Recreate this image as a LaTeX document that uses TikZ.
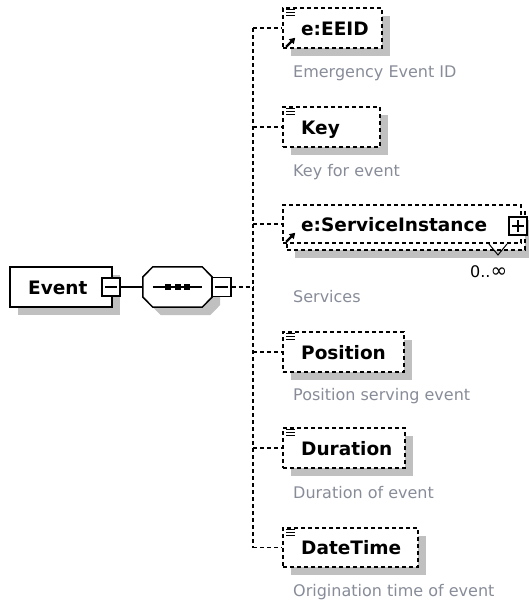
\documentclass[tikz,border=0pt]{standalone}
\usepackage{fontspec}
\setmainfont{DejaVu Sans}
\usetikzlibrary{shadows,arrows.meta}
\definecolor{shad}{RGB}{192,192,192}
\definecolor{descc}{RGB}{135,140,152}
\begin{document}
\begin{tikzpicture}[x=1pt,y=-1pt,
  sh/.style={drop shadow={shadow xshift=8pt,shadow yshift=-8pt,opacity=1,fill=shad}},
  elem/.style={draw,line width=1.5pt,dash pattern=on 4pt off 3pt,fill=white,rectangle,inner sep=0pt,minimum height=40pt},
  rootbox/.style={draw,line width=1.5pt,fill=white,rectangle,inner sep=0pt,minimum width=102pt,minimum height=40pt,sh},
  lbl/.style={font=\fontsize{18.5}{22}\selectfont\bfseries,anchor=base west,inner sep=0pt},
  dsc/.style={font=\fontsize{16}{19}\selectfont,text=descc,anchor=base west,inner sep=0pt},
  pm/.style={draw,line width=1.3pt,fill=white,minimum size=18pt,inner sep=0pt},
  pmline/.style={line width=1.3pt},
  solidline/.style={line width=1.5pt},
  conn/.style={line width=1.5pt,dash pattern=on 4pt off 3pt},
  sq/.style={fill=black,minimum size=6pt,inner sep=0pt},
  doclines/.style={line width=1.2pt},
  refarrow/.style={line width=2.2pt,-{Triangle[length=5.5pt,width=6.5pt]}},
]
\useasboundingbox (0,0) rectangle (529,603);

% ---------- root element ----------
\node[rootbox] (event) at (61,287) {};
\node[lbl] (eventlbl) at (28,294) {Event};
\node[pm] (evm) at (111,287) {};
\draw[pmline] ([xshift=4pt]evm.west) -- ([xshift=-4pt]evm.east);

% ---------- sequence compositor ----------
\node[inner sep=0pt,minimum width=69pt,minimum height=40pt] (seq) at (177.5,287) {};
\fill[shad,transform canvas={shift={(8pt,-8pt)}}]
  ([yshift=10pt]seq.west) -- ([xshift=10pt]seq.north west) -- ([xshift=-10pt]seq.north east)
  -- ([yshift=10pt]seq.east) -- ([yshift=-10pt]seq.east) -- ([xshift=-10pt]seq.south east)
  -- ([xshift=10pt]seq.south west) -- ([yshift=-10pt]seq.west) -- cycle;
\draw[solidline,fill=white]
  ([yshift=10pt]seq.west) -- ([xshift=10pt]seq.north west) -- ([xshift=-10pt]seq.north east)
  -- ([yshift=10pt]seq.east) -- ([yshift=-10pt]seq.east) -- ([xshift=-10pt]seq.south east)
  -- ([xshift=10pt]seq.south west) -- ([yshift=-10pt]seq.west) -- cycle;
\draw[solidline] ([xshift=10pt]seq.west) -- ([xshift=-10pt]seq.east);
\node[sq] (sq1) at (168,287) {};
\node[sq] (sq2) at (177.5,287) {};
\node[sq] (sq3) at (187,287) {};
\node[pm,minimum size=19pt] (seqm) at (221.5,287) {};
\draw[pmline] ([xshift=4pt]seqm.west) -- ([xshift=-4pt]seqm.east);

% ---------- children ----------
% e:EEID
\node[elem,sh,minimum width=99pt] (eeid) at (332.5,28) {};
\node[lbl] (eeidlbl) at (301,35) {e:EEID};
\node[dsc] (eeiddsc) at (293,77) {Emergency Event ID};

% Key
\node[elem,sh,minimum width=97pt] (key) at (331.5,127) {};
\node[lbl] (keylbl) at (301,134) {Key};
\node[dsc] (keydsc) at (293,176) {Key for event};

% e:ServiceInstance (multiple occurrence)
\node[elem,sh,minimum width=238pt,minimum height=38pt] (siback) at (406,231) {};
\node[elem,minimum width=238pt,minimum height=38pt] (si) at (402,224) {};
\node[lbl] (silbl) at (301,231) {e:ServiceInstance};
\node[pm] (sip) at (518,226) {};
\draw[pmline] ([xshift=4pt]sip.west) -- ([xshift=-4pt]sip.east);
\draw[pmline] ([yshift=-4pt]sip.north) -- ([yshift=4pt]sip.south);
\draw[line width=1pt] (489,244) -- (498,255) -- (507,244);
\node[font=\fontsize{16}{19}\selectfont,inner sep=0pt,anchor=base west] (simult) at (470,277) {0..{\fontsize{20}{20}\selectfont ∞}};
\node[dsc] (sidsc) at (293,302) {Services};

% Position
\node[elem,sh,minimum width=121pt] (pos) at (343.5,352) {};
\node[lbl] (poslbl) at (301,359) {Position};
\node[dsc] (posdsc) at (293,400) {Position serving event};

% Duration
\node[elem,sh,minimum width=122pt] (dur) at (344,448) {};
\node[lbl] (durlbl) at (301,455) {Duration};
\node[dsc] (durdsc) at (293,498) {Duration of event};

% DateTime
\node[elem,sh,minimum width=135pt,minimum height=39pt] (dt) at (350.5,547.5) {};
\node[lbl] (dtlbl) at (301,554.5) {DateTime};
\node[dsc] (dtdsc) at (293,596) {Origination time of event};

% ---------- icons ----------
\foreach \b in {eeid,key,pos,dur,dt}{
  \draw[doclines] ([shift={(4,2.5)}]\b.north west) -- ++(9,0);
  \draw[doclines] ([shift={(4,5.5)}]\b.north west) -- ++(9,0);
  \draw[doclines] ([shift={(4,8.5)}]\b.north west) -- ++(9,0);
}
\draw[refarrow] ([shift={(4,-2)}]eeid.south west) -- ++(9,-9);
\draw[refarrow] ([shift={(4,-2)}]si.south west) -- ++(9,-9);

% ---------- connectors ----------
\coordinate (trunk) at (253,287);
\draw[solidline] (evm.east) -- (seq.west);
\draw[conn] (seqm.east) -- (trunk);
\draw[conn] (trunk |- eeid.west) -- (trunk |- dt.west);
\foreach \b in {eeid,key,si,pos,dur,dt}{
  \draw[conn] (trunk |- \b.west) -- (\b.west);
}
\end{tikzpicture}
\end{document}
